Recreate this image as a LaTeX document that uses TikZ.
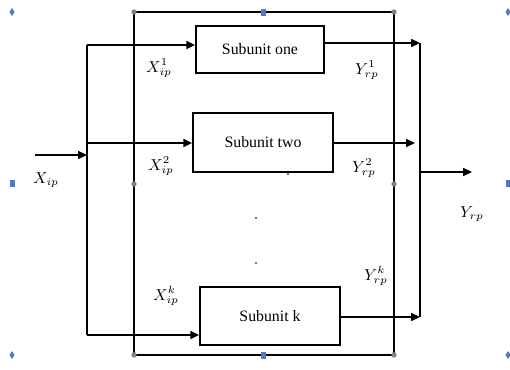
\documentclass[tikz,border=0pt]{standalone}
\usepackage{fontspec}
\setmainfont{Liberation Serif}
\usetikzlibrary{arrows.meta}
\definecolor{handle}{RGB}{80,120,205}
\tikzset{
  unitbox/.style={draw, line width=1pt, inner sep=0pt, font=\fontsize{9}{11}\selectfont},
  flow/.style={line width=1pt, -{Triangle[length=5pt,width=4.5pt]}},
  wire/.style={line width=1pt},
  lab/.style={font=\fontsize{9}{11}\selectfont, inner sep=1pt},
  knot/.style={circle, fill=gray, inner sep=0pt, minimum size=3pt},
}
\begin{document}
\begin{tikzpicture}[x=0.2mm, y=-0.2mm]
\useasboundingbox (0,0) rectangle (510,370);

% Marco exterior
\coordinate (fa) at (134,12);
\coordinate (fb) at (394,355);
\draw[line width=1.4pt] (fa) -- (fa -| fb);
\draw[line width=1.4pt] (fa |- fb) -- (fb);
\draw[line width=0.8pt] (fa) -- (fa |- fb);
\draw[line width=0.8pt] (fa -| fb) -- (fb);
\foreach \p in {(134,12), (394,12), (134,355), (394,355), (134,184), (394,184)}
  \node[knot] at \p {};

% Subunidades
\node[unitbox, minimum width=25.6mm, minimum height=9.4mm] (u1) at (260,49.5) {Subunit one};
\node[unitbox, minimum width=28mm, minimum height=11.8mm] (u2) at (263,142.5) {Subunit two};
\node[unitbox, minimum width=28mm, minimum height=11.6mm] (uk) at (270,316) {Subunit k};

\foreach \p/\n in {(288,174)/d1, (256,218)/d2, (256,263)/d3}
  \fill[black!70] \p circle (0.7pt) coordinate (\n);

% Entrada
\coordinate (in) at (35,155);
\coordinate (j) at (87,155);
\coordinate (s1) at (87,45);
\coordinate (s2) at (87,143);
\coordinate (sk) at (87,335);
\draw[flow] (in) -- (j);
\draw[wire] (s1) -- (sk);
\draw[flow] (s1) -- (s1 -| u1.west);
\draw[flow] (s2) -- (s2 -| u2.west);
\draw[flow] (sk) -- (sk -| uk.west);

% Salida
\coordinate (o1) at (420,43);
\coordinate (o2) at (415,143);
\coordinate (ok) at (420,317);
\coordinate (c) at (420,172);
\coordinate (out) at (472,172);
\draw[flow] (o1 -| u1.east) -- (o1);
\draw[flow] (o2 -| u2.east) -- (o2);
\draw[flow] (ok -| uk.east) -- (ok);
\draw[wire] (o1) -- (ok);
\draw[flow] (c) -- (out);

% Etiquetas
\node[lab] (xin) at (46,180) {$X_{ip}$};
\node[lab] (x1) at (159,68) {$X_{ip}^{1}$};
\node[lab] (x2) at (161,166) {$X_{ip}^{2}$};
\node[lab] (xk) at (166,296) {$X_{ip}^{k}$};
\node[lab] (y1) at (367,70) {$Y_{rp}^{1}$};
\node[lab] (y2) at (364,168) {$Y_{rp}^{2}$};
\node[lab] (yk) at (376,276) {$Y_{rp}^{k}$};
\node[lab] (yout) at (472,214) {$Y_{rp}$};

% Marcas de seleccion
\foreach \p in {(12,12), (12,355), (508,12), (508,355)}
  \fill[handle] \p ++(0,-4) -- ++(2.5,4) -- ++(-2.5,4) -- ++(-2.5,-4) -- cycle;
\foreach \p in {(12,183), (508,183), (263,12), (263,355)}
  \fill[handle] \p ++(-2.5,-3.5) rectangle ++(5,7);
\end{tikzpicture}
\end{document}
